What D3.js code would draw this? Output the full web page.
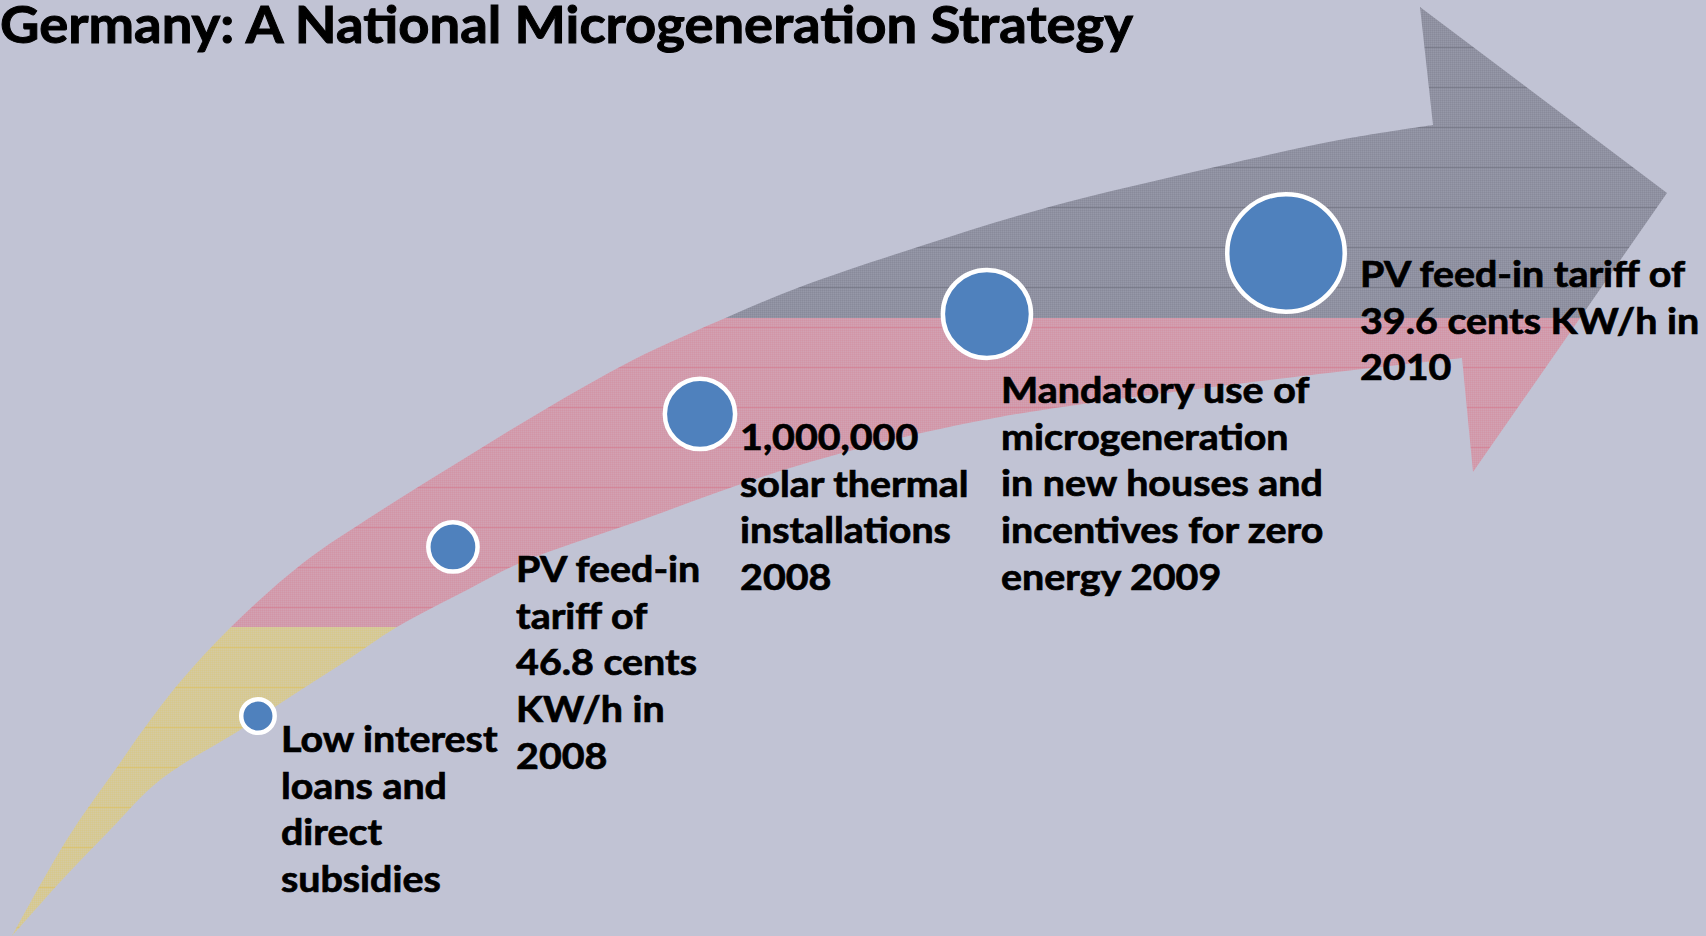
<!DOCTYPE html>
<html>
<head>
<meta charset="utf-8">
<script src="https://cdn.jsdelivr.net/npm/d3@7"></script>
<style>
  body { margin: 0; background: #c1c3d4; overflow: hidden; }
  text { font-family: Lato, "Open Sans", sans-serif; font-weight: 700; fill: #000; stroke: #000; }
</style>
</head>
<body>
<script>
// timeline stages (x / y in % of the slide)
const stageLabels = [
  ["Low interest", "loans and", "direct", "subsidies"],
  ["PV feed-in", "tariff of", "46.8 cents", "KW/h in", "2008"],
  ["1,000,000", "solar thermal", "installations", "2008"],
  ["Mandatory use of", "microgeneration", "in new houses and", "incentives for zero", "energy 2009"],
  ["PV feed-in tariff of", "39.6 cents KW/h in", "2010"]
];
const stageX = [15.12, 26.55, 41.03, 57.85, 75.38];
const stageY = [23.50, 41.56, 55.77, 66.45, 72.97];
const stageWeight = [1, 1.75, 2.75, 3.6, 5];
const labelX = [16.47, 30.25, 43.38, 58.68, 79.72];
const labelY = [19.66, 37.82, 51.92, 56.94, 69.34];

const title = "Germany: A National Microgeneration Strategy";

const width = 1706, height = 936;

const x = d3.scaleLinear().domain([0, 100]).range([0, width]);
const y = d3.scaleLinear().domain([0, 100]).range([height, 0]);
const r = d3.scaleLinear().domain([1, 5]).range([19, 61]);

const svg = d3.select("body").append("svg")
    .attr("width", width)
    .attr("height", height);

svg.append("rect")
    .attr("width", width)
    .attr("height", height)
    .attr("fill", "#c1c3d4");

// flag-striped arrow
const upper = [[12,936],[43,880],[73,830],[120,763],[143,730],[180,682],[230,628],[303,563],
  [377,513],[457,463],[544,410],[633,360],[730,316],[800,287],[924,245],[1049,207],[1215,167],[1339,140],[1433,125]];
const head = [[1420,7],[1667,193],[1473,472],[1462,358]];
const lower = [[1462,358],[1000,417],[800,465],[633,523],[520,563],[467,590],[397,627],[343,663],
  [290,697],[240,730],[160,780],[110,830],[62,880],[12,936]];

const edge = d3.line().curve(d3.curveCatmullRom.alpha(0.5));
const arrowD = edge(upper)
    + head.map(p => "L" + p[0] + "," + p[1]).join("")
    + edge(lower).replace(/^M/, "L") + "Z";

const defs = svg.append("defs");
defs.append("clipPath").attr("id", "arrow-clip")
  .append("path").attr("d", arrowD);

const bands = [
  {id: "band-black", y0: 0, y1: 318, base: "#9698a8", line: "#5d5f6d"},
  {id: "band-red", y0: 318, y1: 627, base: "#d2a2b3", line: "#d66a80"},
  {id: "band-gold", y0: 627, y1: height, base: "#d5cba2", line: "#e0bd45"}
];

bands.forEach(b => {
  const p = defs.append("pattern")
      .attr("id", b.id)
      .attr("patternUnits", "userSpaceOnUse")
      .attr("width", 4)
      .attr("height", 40);
  p.append("rect").attr("width", 4).attr("height", 40).attr("fill", b.base);
  p.append("path")
      .attr("d", d3.range(0, 40, 2).map(v => `M0,${v + 0.5}H4`).join("") + "M0.5,0V40M2.5,0V40")
      .attr("stroke", b.line)
      .attr("stroke-opacity", 0.12)
      .attr("stroke-width", 1);
  p.append("path")
      .attr("d", "M0,7.5H4")
      .attr("stroke", b.line)
      .attr("stroke-opacity", 0.45)
      .attr("stroke-width", 1);
});

svg.append("g")
    .attr("clip-path", "url(#arrow-clip)")
  .selectAll("rect")
  .data(bands)
  .join("rect")
    .attr("x", 0)
    .attr("y", d => d.y0)
    .attr("width", width)
    .attr("height", d => d.y1 - d.y0)
    .attr("fill", d => `url(#${d.id})`);

// stage markers
const stages = stageLabels.map((lines, i) => ({
  lines, x: stageX[i], y: stageY[i], w: stageWeight[i], lx: labelX[i], ly: labelY[i]
}));

const ring = 4.5;
svg.append("g")
  .selectAll("circle")
  .data(stages)
  .join("circle")
    .attr("cx", d => x(d.x))
    .attr("cy", d => y(d.y))
    .attr("r", d => r(d.w) - ring / 2)
    .attr("fill", "#4f81bd")
    .attr("stroke", "#fff")
    .attr("stroke-width", ring);

// labels
const fontSize = 36, lineHeight = 46.7;
const labels = svg.append("g")
  .selectAll("text")
  .data(stages)
  .join("text")
    .attr("font-size", fontSize)
    .attr("stroke-width", 0.7)
    .attr("x", d => x(d.lx))
    .attr("y", d => y(d.ly));

labels.selectAll("tspan")
  .data(d => d.lines.map((t, j) => ({t, j, x: x(d.lx)})))
  .join("tspan")
    .attr("x", d => d.x)
    .attr("dy", d => d.j === 0 ? 0 : lineHeight)
    .text(d => d.t);

// squeeze the humanist sans a little towards the original's narrower face
const probe = labels.filter((d, i) => i === 4).select("tspan").node();
const k = 325 / probe.getComputedTextLength();
labels.attr("transform", d => `translate(${x(d.lx)},0) scale(${k},1) translate(${-x(d.lx)},0)`);

svg.append("text")
    .attr("x", 0)
    .attr("y", 43)
    .attr("font-size", 52)
    .attr("stroke-width", 1)
    .attr("textLength", 1133)
    .attr("lengthAdjust", "spacingAndGlyphs")
    .text(title);
</script>
</body>
</html>
